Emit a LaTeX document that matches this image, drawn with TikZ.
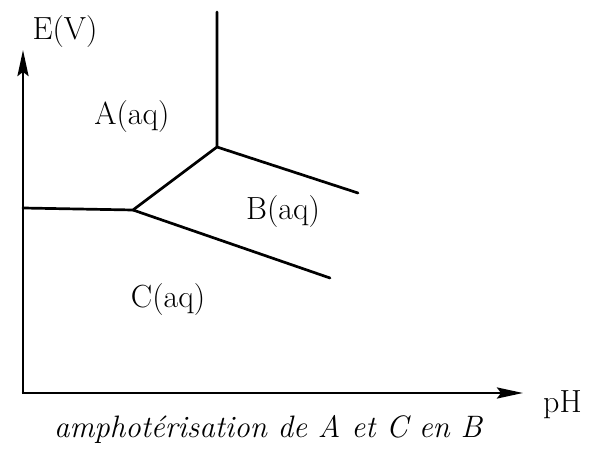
\documentclass[tikz,border=0pt]{standalone}
\usepackage{fontspec}
\usetikzlibrary{arrows.meta}
\begin{document}
\begin{tikzpicture}[x=1pt,y=-1pt,
  axis/.style={line width=2.8pt,-{Stealth[length=26pt,width=11pt,inset=4pt]}},
  bound/.style={line width=2.7pt,line cap=round,line join=round},
  lab/.style={font=\fontsize{32}{38}\selectfont,inner sep=0pt},
  captext/.style={font=\fontsize{31}{36}\selectfont\itshape,inner sep=0pt}]
\useasboundingbox (0,0) rectangle (592,454);
\coordinate (O) at (23,393);
\coordinate (Ytip) at (23,50);
\coordinate (Xtip) at (523,393);
\coordinate (L) at (23,208);
\coordinate (J1) at (133,210);
\coordinate (J2) at (217,147);
\coordinate (T) at (217,12);
\coordinate (Bend) at (358,193);
\coordinate (Cend) at (330,278);
\draw[axis] (O) -- (Ytip);
\draw[axis] ([xshift=-1.4pt]O) -- (Xtip);
\draw[bound] (L) -- (J1) -- (J2) -- (T);
\draw[bound] (J2) -- (Bend);
\draw[bound] (J1) -- (Cend);
\node[lab,anchor=base] (E) at (65,40) {E(V)};
\node[lab,anchor=base west] (pH) at (543,412) {pH};
\node[lab,anchor=base] (A) at (132,125) {A(aq)};
\node[lab,anchor=base] (B) at (283,220) {B(aq)};
\node[lab,anchor=base] (C) at (168,308) {C(aq)};
\node[captext,anchor=base] (cap) at (268,437) {amphotérisation de A et C en B};
\end{tikzpicture}
\end{document}
